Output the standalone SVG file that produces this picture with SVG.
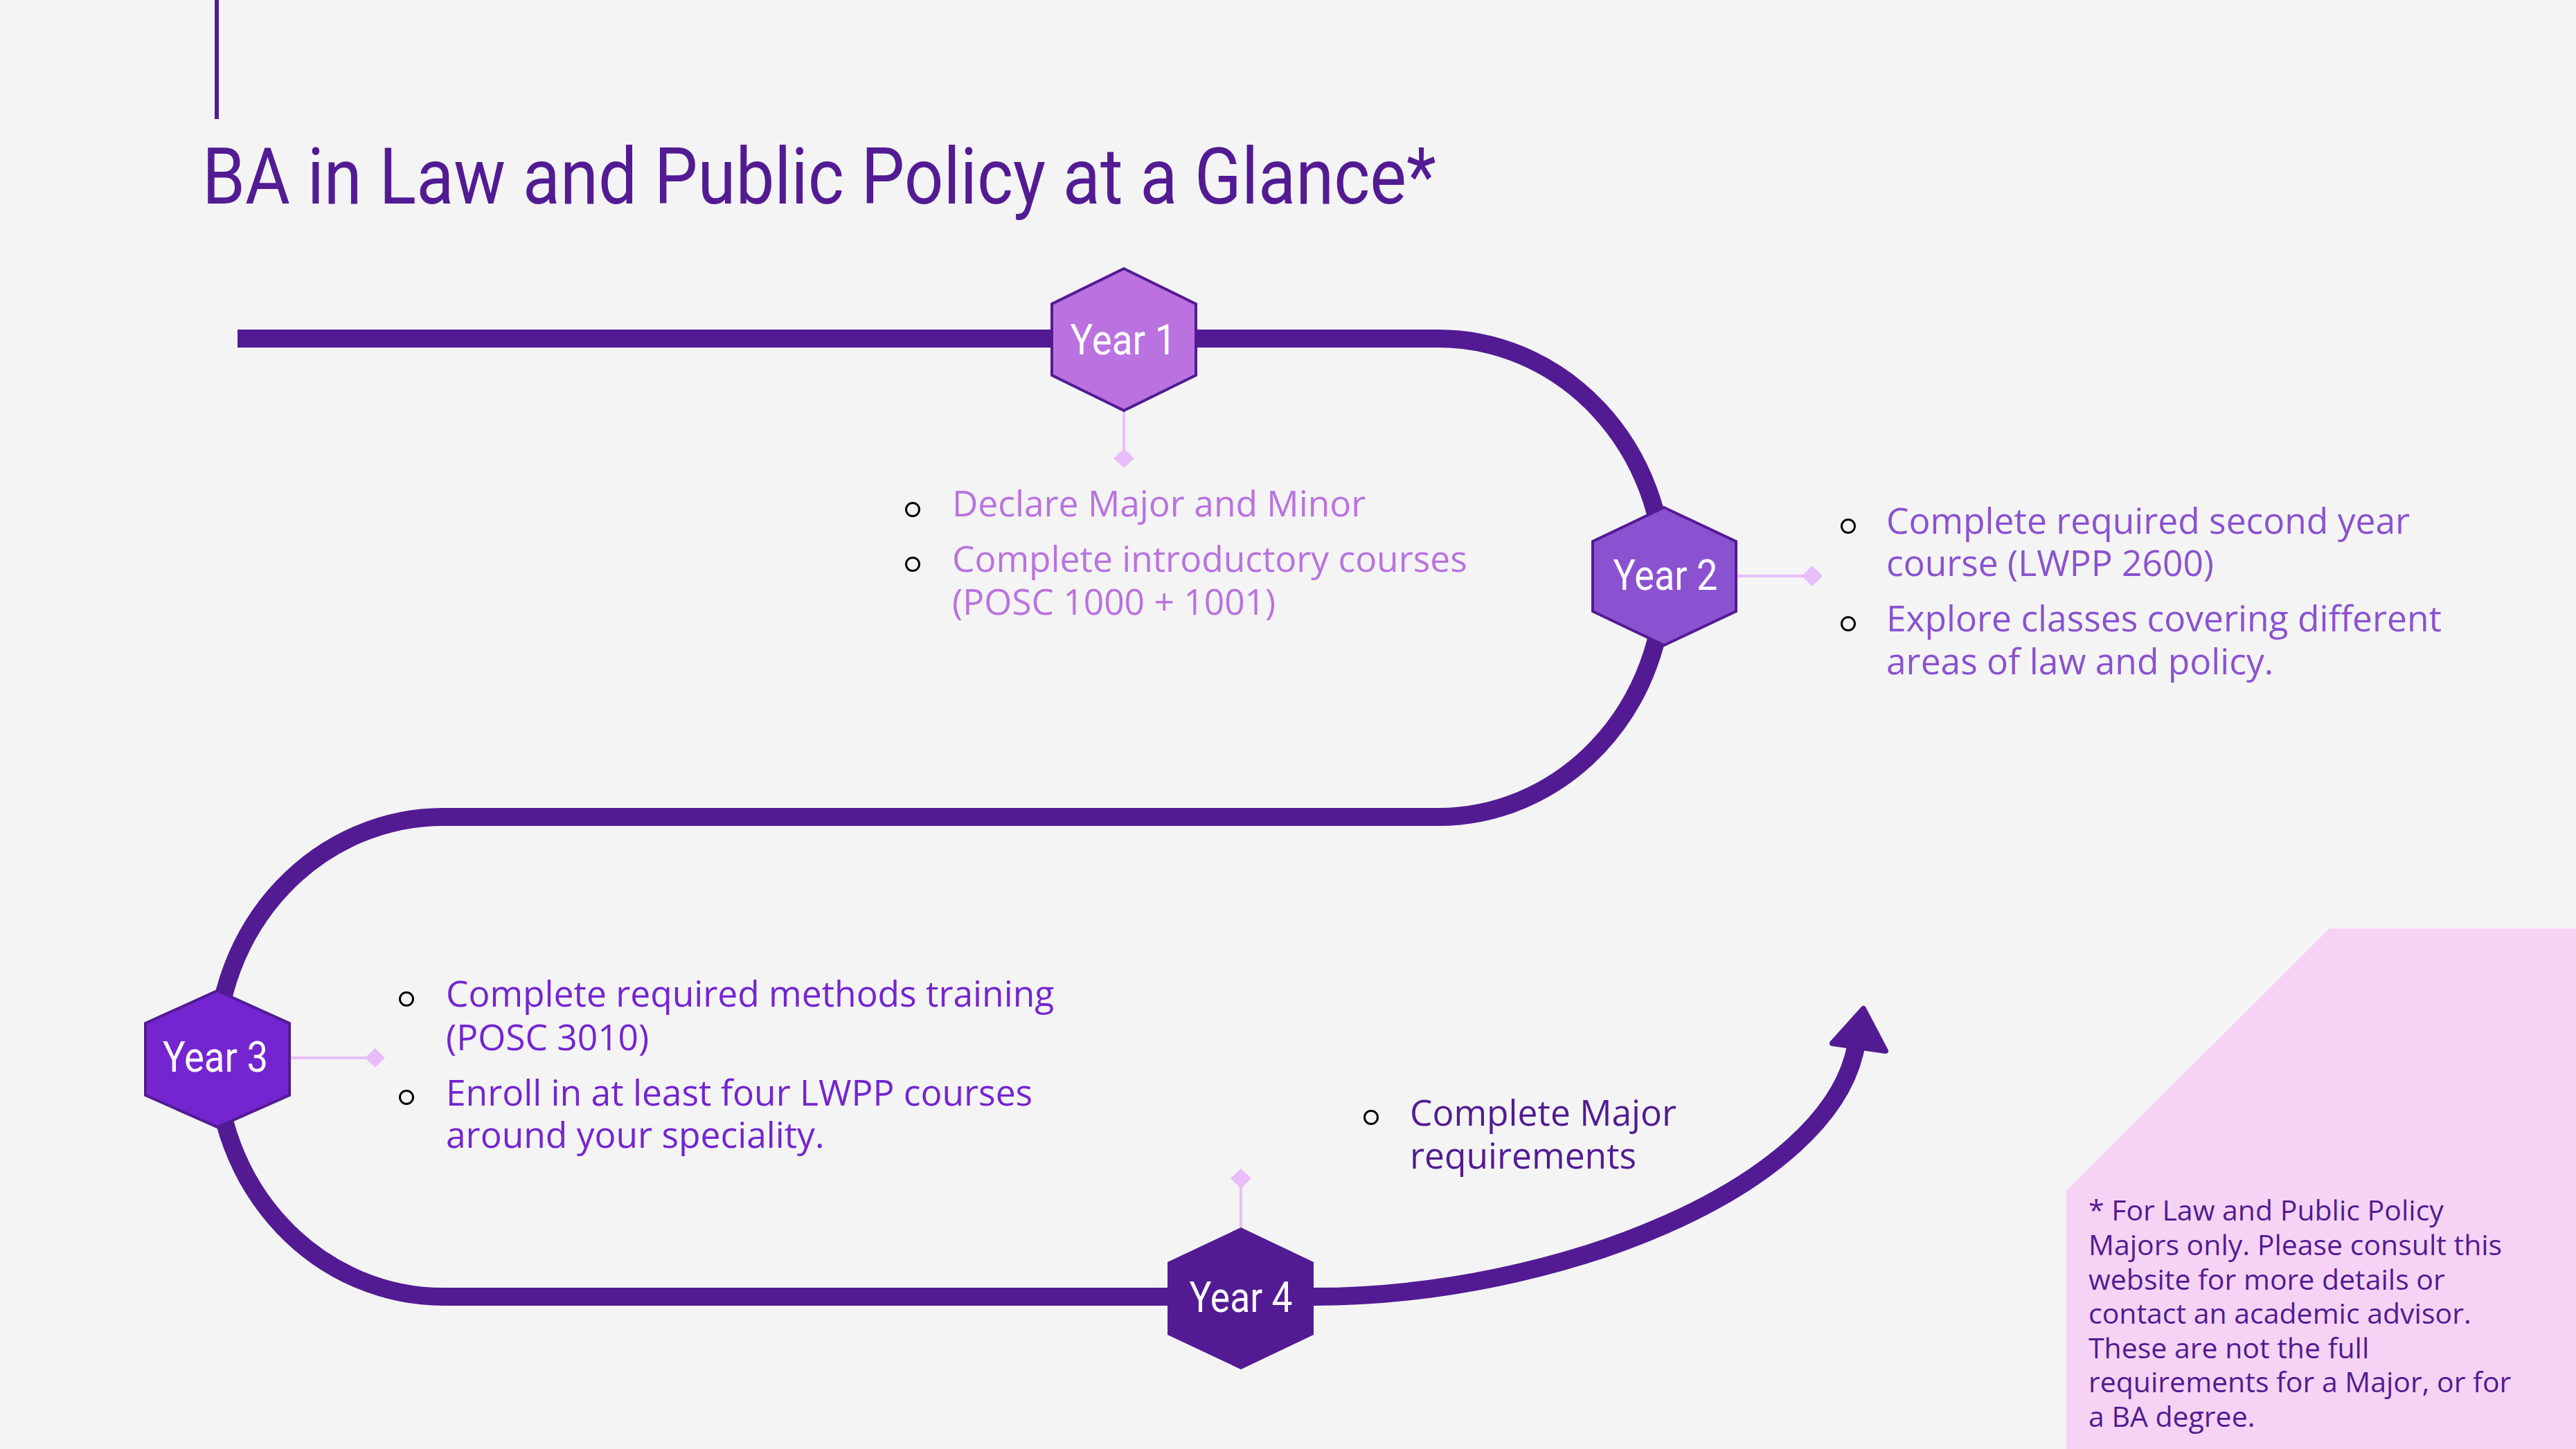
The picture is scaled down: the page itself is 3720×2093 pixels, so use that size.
<svg xmlns="http://www.w3.org/2000/svg" width="3720" height="2093" viewBox="0 0 3720 2093">
<style>
.bg{fill:#F4F4F4}
.road{fill:none;stroke:#521B93;stroke-width:26}
.hex{stroke:#521B93;stroke-width:4;stroke-linejoin:miter}
.lbl{font-family:Roboto,"Liberation Sans",sans-serif;font-size:62px;fill:#FFFFFF;text-anchor:middle}
.lnk{stroke:#E9BDF9;stroke-width:4;fill:none}
.dia{fill:#E9BDF9}
.bul{fill:none;stroke:#000000;stroke-width:3}
.txt{font-family:"Open Sans","Noto Sans","Liberation Sans",sans-serif;font-size:51.5px}
.y1{fill:#BA72E0}
.y2{fill:#8A52D0}
.y3{fill:#7425D0}
.y4{fill:#521B93}
.note{font-family:"Open Sans","Noto Sans","Liberation Sans",sans-serif;font-size:41px;fill:#521B93}
</style>
<rect class="bg" x="0" y="0" width="3720" height="2093"/>
<g id="footnote-box">
<polygon points="3364,1341 3720,1341 3720,2093 2984,2093 2984,1720" fill="#F6D3F5"/>
<text class="note"><tspan x="3016" y="1763">* For Law and Public Policy</tspan><tspan x="3016" y="1813">Majors only. Please consult this</tspan><tspan x="3016" y="1863">website for more details or</tspan><tspan x="3016" y="1912">contact an academic advisor.</tspan><tspan x="3016" y="1962">These are not the full</tspan><tspan x="3016" y="2011">requirements for a Major, or for</tspan><tspan x="3016" y="2061">a BA degree.</tspan></text>
</g>
<g id="title">
<rect x="310" y="0" width="6" height="172" fill="#521B93"/>
<text x="292" y="294" font-family="Roboto,'Liberation Sans',sans-serif" font-size="114" fill="#521B93" textLength="1782" lengthAdjust="spacingAndGlyphs">BA in Law and Public Policy at a Glance*</text>
</g>
<g id="connectors">
<path class="road" d="M343 489 H2077 A326 345.5 0 0 1 2077 1180 H640 A328 346.5 0 0 0 640 1873 H1897 C2250 1873 2642 1714 2680 1512"/>
<polygon points="2691,1457 2723,1518 2646,1507" fill="#521B93" stroke="#521B93" stroke-width="8" stroke-linejoin="round"/>
<line class="lnk" x1="1623" y1="593" x2="1623" y2="650"/>
<polygon class="dia" points="1623,648 1638,662 1623,676 1608,662"/>
<line class="lnk" x1="2507" y1="832" x2="2604" y2="832"/>
<polygon class="dia" points="2602,832 2617,817 2632,832 2617,847"/>
<line class="lnk" x1="419" y1="1528" x2="529" y2="1528"/>
<polygon class="dia" points="527,1528 541.5,1514 556,1528 541.5,1542"/>
<line class="lnk" x1="1792" y1="1773" x2="1792" y2="1715"/>
<polygon class="dia" points="1792,1717 1807,1702 1792,1688 1777,1702"/>
</g>
<g id="year1">
<polygon class="hex" fill="#BA72E0" points="1623,388 1727,439 1727,542 1623,593 1519,542 1519,439"/>
<text class="lbl" x="1622" y="512" textLength="153" lengthAdjust="spacingAndGlyphs">Year 1</text>
<circle class="bul" cx="1318" cy="736" r="9.5"/>
<circle class="bul" cx="1318" cy="815" r="9.5"/>
<text class="txt y1"><tspan x="1375" y="746">Declare Major and Minor</tspan><tspan x="1375" y="826">Complete introductory courses</tspan><tspan x="1375" y="888">(POSC 1000 + 1001)</tspan></text>
</g>
<g id="year2">
<polygon class="hex" fill="#8A52D0" points="2403,733 2507,782 2507,883 2403,932 2300,883 2300,782"/>
<text class="lbl" x="2405" y="852" textLength="151" lengthAdjust="spacingAndGlyphs">Year 2</text>
<circle class="bul" cx="2669" cy="760" r="9.5"/>
<circle class="bul" cx="2669" cy="901" r="9.5"/>
<text class="txt y2"><tspan x="2724" y="771">Complete required second year</tspan><tspan x="2724" y="832">course (LWPP 2600)</tspan><tspan x="2724" y="912">Explore classes covering different</tspan><tspan x="2724" y="974">areas of law and policy.</tspan></text>
</g>
<g id="year3">
<polygon class="hex" fill="#7425D0" points="314,1431 418,1478 418,1582 314,1628 210,1582 210,1478"/>
<text class="lbl" x="311" y="1548" textLength="152" lengthAdjust="spacingAndGlyphs">Year 3</text>
<circle class="bul" cx="587" cy="1443" r="9.5"/>
<circle class="bul" cx="587" cy="1585" r="9.5"/>
<text class="txt y3"><tspan x="644" y="1454">Complete required methods training</tspan><tspan x="644" y="1517">(POSC 3010)</tspan><tspan x="644" y="1597">Enroll in at least four LWPP courses</tspan><tspan x="644" y="1658">around your speciality.</tspan></text>
</g>
<g id="year4">
<polygon fill="#521B93" points="1792,1773 1897,1823 1897,1928 1792,1978 1686,1928 1686,1823"/>
<text class="lbl" x="1792" y="1895" textLength="149" lengthAdjust="spacingAndGlyphs">Year 4</text>
<circle class="bul" cx="1980" cy="1614" r="9.5"/>
<text class="txt y4"><tspan x="2036" y="1626">Complete Major</tspan><tspan x="2036" y="1688">requirements</tspan></text>
</g>
</svg>
